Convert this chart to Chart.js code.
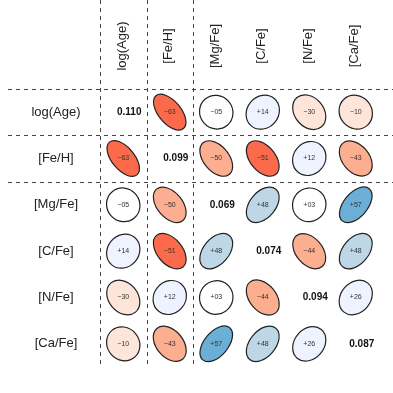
<!DOCTYPE html>
<html lang="en">
<head>
<meta charset="UTF-8">
<title>Parameter correlations</title>
<script src="https://cdn.jsdelivr.net/npm/chart.js"></script>
<style>
  body { margin: 0; background: #fff; }
</style>
</head>
<body>
<canvas id="corrChart" width="393" height="393"></canvas>
<script>
// parameter names (rows and columns)
const params = ['log(Age)', '[Fe/H]', '[Mg/Fe]', '[C/Fe]', '[N/Fe]', '[Ca/Fe]'];
// scatter shown on the diagonal
const diagValues = [0.110, 0.099, 0.069, 0.074, 0.094, 0.087];
// correlation coefficients x100, one row per parameter
const rowAge = [null, -63, -5, 14, -30, -10];
const rowFeH = [-63, null, -50, -51, 12, -43];
const rowMg  = [-5, -50, null, 48, 3, 57];
const rowC   = [14, -51, 48, null, -44, 48];
const rowN   = [-30, 12, 3, -44, null, 26];
const rowCa  = [-10, -43, 57, 48, 26, null];
const corrRows = [rowAge, rowFeH, rowMg, rowC, rowN, rowCa];

const cells = [];
corrRows.forEach((row, i) => {
    row.forEach((v, j) => {
        if (v !== null) cells.push({ x: j, y: i, r: v });
    });
});
const diagPoints = diagValues.map((v, i) => ({ x: i, y: i, v: v }));

function fillFor(r) {
    const a = Math.abs(r);
    if (a < 10) return '#ffffff';
    const reds = ['#fee5d9', '#fcae91', '#fb6a4a'];
    const blues = ['#eff3ff', '#bdd7e7', '#6baed6'];
    const k = a < 40 ? 0 : (a <= 50 ? 1 : 2);
    return r < 0 ? reds[k] : blues[k];
}

function corrText(v) {
    return (v < 0 ? '\u2212' : '+') + String(Math.abs(v)).padStart(2, '0');
}

const FONT = '"Liberation Sans", Arial, sans-serif';

const matrixPlugin = {
    id: 'matrix',
    beforeDatasetsDraw(chart) {
        const ctx = chart.ctx;
        const xs = chart.scales.x, ys = chart.scales.y;
        const area = chart.chartArea;
        ctx.save();
        ctx.strokeStyle = '#444';
        ctx.lineWidth = 1;
        ctx.setLineDash([4, 4]);
        [-0.5, 0.5, 1.5].forEach(v => {
            const y = Math.round(ys.getPixelForValue(v)) + 0.5;
            ctx.beginPath();
            ctx.moveTo(8, y);
            ctx.lineTo(chart.width, y);
            ctx.stroke();
            const x = Math.round(xs.getPixelForValue(v)) + 0.5;
            ctx.beginPath();
            ctx.moveTo(x, 0);
            ctx.lineTo(x, area.bottom);
            ctx.stroke();
        });
        ctx.setLineDash([]);

        // axis labels
        ctx.fillStyle = '#222';
        ctx.font = '13px ' + FONT;
        ctx.textAlign = 'center';
        ctx.textBaseline = 'middle';
        params.forEach((p, i) => {
            ctx.fillText(p, 56, ys.getPixelForValue(i));
            ctx.save();
            ctx.translate(xs.getPixelForValue(i) - 1, 46);
            ctx.rotate(-Math.PI / 2);
            ctx.fillText(p, 0, 0);
            ctx.restore();
        });
        ctx.restore();
    },
    afterDatasetsDraw(chart) {
        const ctx = chart.ctx;
        const xs = chart.scales.x;
        const cell = Math.abs(xs.getPixelForValue(1) - xs.getPixelForValue(0));
        const R = cell * 0.36;
        ctx.save();
        const meta = chart.getDatasetMeta(0);
        meta.data.forEach((pt, k) => {
            const c = cells[k];
            const rho = Math.abs(c.r) / 100;
            const a = R * Math.pow(1 + rho, 0.5);
            const b = R * Math.pow(1 - rho, 0.4);
            const ang = (c.r < 0 ? 1 : -1) * 50 * Math.PI / 180;
            ctx.beginPath();
            ctx.ellipse(pt.x, pt.y, a, b, ang, 0, 2 * Math.PI);
            ctx.fillStyle = fillFor(c.r);
            ctx.fill();
            ctx.lineWidth = 1.2;
            ctx.strokeStyle = '#222';
            ctx.stroke();
            ctx.fillStyle = '#333';
            ctx.font = '7px ' + FONT;
            ctx.textAlign = 'center';
            ctx.textBaseline = 'middle';
            ctx.fillText(corrText(c.r), pt.x, pt.y);
        });
        const dmeta = chart.getDatasetMeta(1);
        dmeta.data.forEach((pt, k) => {
            ctx.fillStyle = '#111';
            ctx.font = 'bold 10px ' + FONT;
            ctx.textAlign = 'center';
            ctx.textBaseline = 'middle';
            ctx.fillText(diagPoints[k].v.toFixed(3), pt.x + 6, pt.y);
        });
        ctx.restore();
    }
};

new Chart(document.getElementById('corrChart'), {
    type: 'scatter',
    data: {
        datasets: [{
            data: cells,
            pointRadius: 0,
            pointHoverRadius: 0
        }, {
            data: diagPoints,
            pointRadius: 0,
            pointHoverRadius: 0
        }]
    },
    options: {
        responsive: false,
        animation: false,
        events: [],
        layout: {
            padding: { left: 100, top: 89, right: 14, bottom: 26 }
        },
        plugins: {
            legend: { display: false },
            tooltip: { enabled: false }
        },
        scales: {
            x: { type: 'linear', min: -0.5, max: 5.5, display: false },
            y: { type: 'linear', min: -0.5, max: 5.5, reverse: true, display: false }
        }
    },
    plugins: [matrixPlugin]
});
</script>
</body>
</html>
